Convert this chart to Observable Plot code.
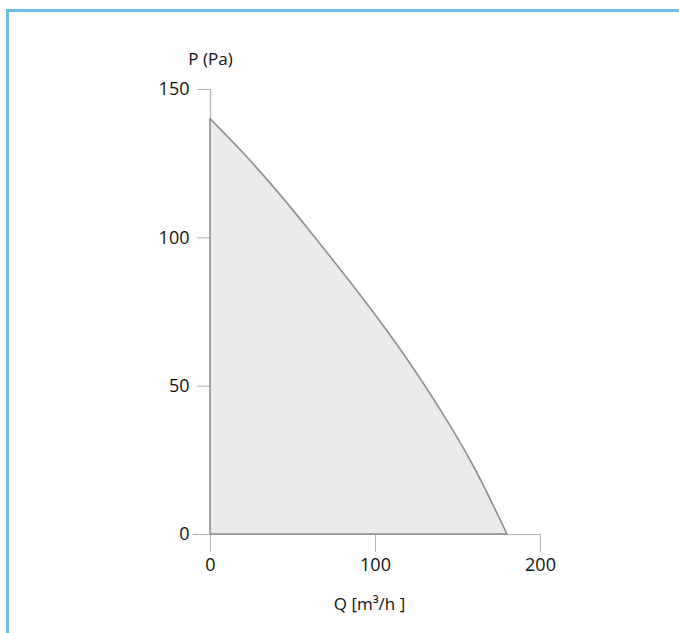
<!DOCTYPE html>
<html>
<head>
<meta charset="utf-8">
<script src="https://cdn.jsdelivr.net/npm/d3@7"></script>
<script src="https://cdn.jsdelivr.net/npm/@observablehq/plot@0.6"></script>
<style>
  html, body { margin: 0; padding: 0; background: #fff; overflow: hidden; }
  #wrap { position: relative; width: 679px; height: 633px; }
  #frame { position: absolute; left: 6px; top: 9px; width: 700px; height: 700px;
           border: 3px solid #6ebde9; box-sizing: border-box; }
  #chart { position: absolute; left: 0; top: 0; }
</style>
</head>
<body>
<div id="wrap">
  <div id="frame"></div>
  <div id="chart"></div>
</div>
<script>
// Flow Q (m³/h) and pressure P (Pa)
const flowQ = [0, 20, 40, 60, 80, 100, 120, 140, 160, 180];
const pressureP = [140, 128.5, 116, 102.5, 88.5, 74, 58.5, 41.5, 22.5, 0];
const xTicks = [0, 100, 200];
const yTicks = [0, 50, 100, 150];
const yLabel = "P (Pa)";
const xLabel = "Q [m³/h ]";

const data = flowQ.map((q, i) => ({q, p: pressureP[i]}));

const font = "'Open Sans', sans-serif";
const chart = Plot.plot({
  width: 679,
  height: 633,
  marginLeft: 210,
  marginRight: 139,
  marginTop: 89,
  marginBottom: 99,
  style: {fontFamily: font, fontSize: "18px", color: "#111", background: "transparent"},
  x: {domain: [0, 200]},
  y: {domain: [0, 150]},
  marks: [
    Plot.ruleX([0], {y1: 0, y2: 150, stroke: "#b3b3b3", strokeWidth: 1.2}),
    Plot.ruleY([0], {x1: -10.5, x2: 200, stroke: "#b3b3b3", strokeWidth: 1.2}),
    Plot.axisX({ticks: xTicks, tickSize: 18, tickPadding: 6, stroke: "#b3b3b3", fill: "#111", fontSize: 18, label: null}),
    Plot.axisY({ticks: yTicks, tickSize: 13, tickPadding: 8, stroke: "#b3b3b3", fill: "#111", fontSize: 18, label: null}),
    Plot.areaY(data, {x: "q", y: "p", curve: "natural", fill: "#ebebeb", stroke: "#8f8f8f", strokeWidth: 1.6}),
    Plot.text([yLabel], {frameAnchor: "top-left", dy: -37, fontSize: 17, fill: "#111", textAnchor: "middle"}),
    Plot.text([xLabel], {frameAnchor: "bottom", dx: -6, dy: 75, fontSize: 17, fill: "#111"})
  ]
});
document.getElementById("chart").appendChild(chart);
</script>
</body>
</html>
